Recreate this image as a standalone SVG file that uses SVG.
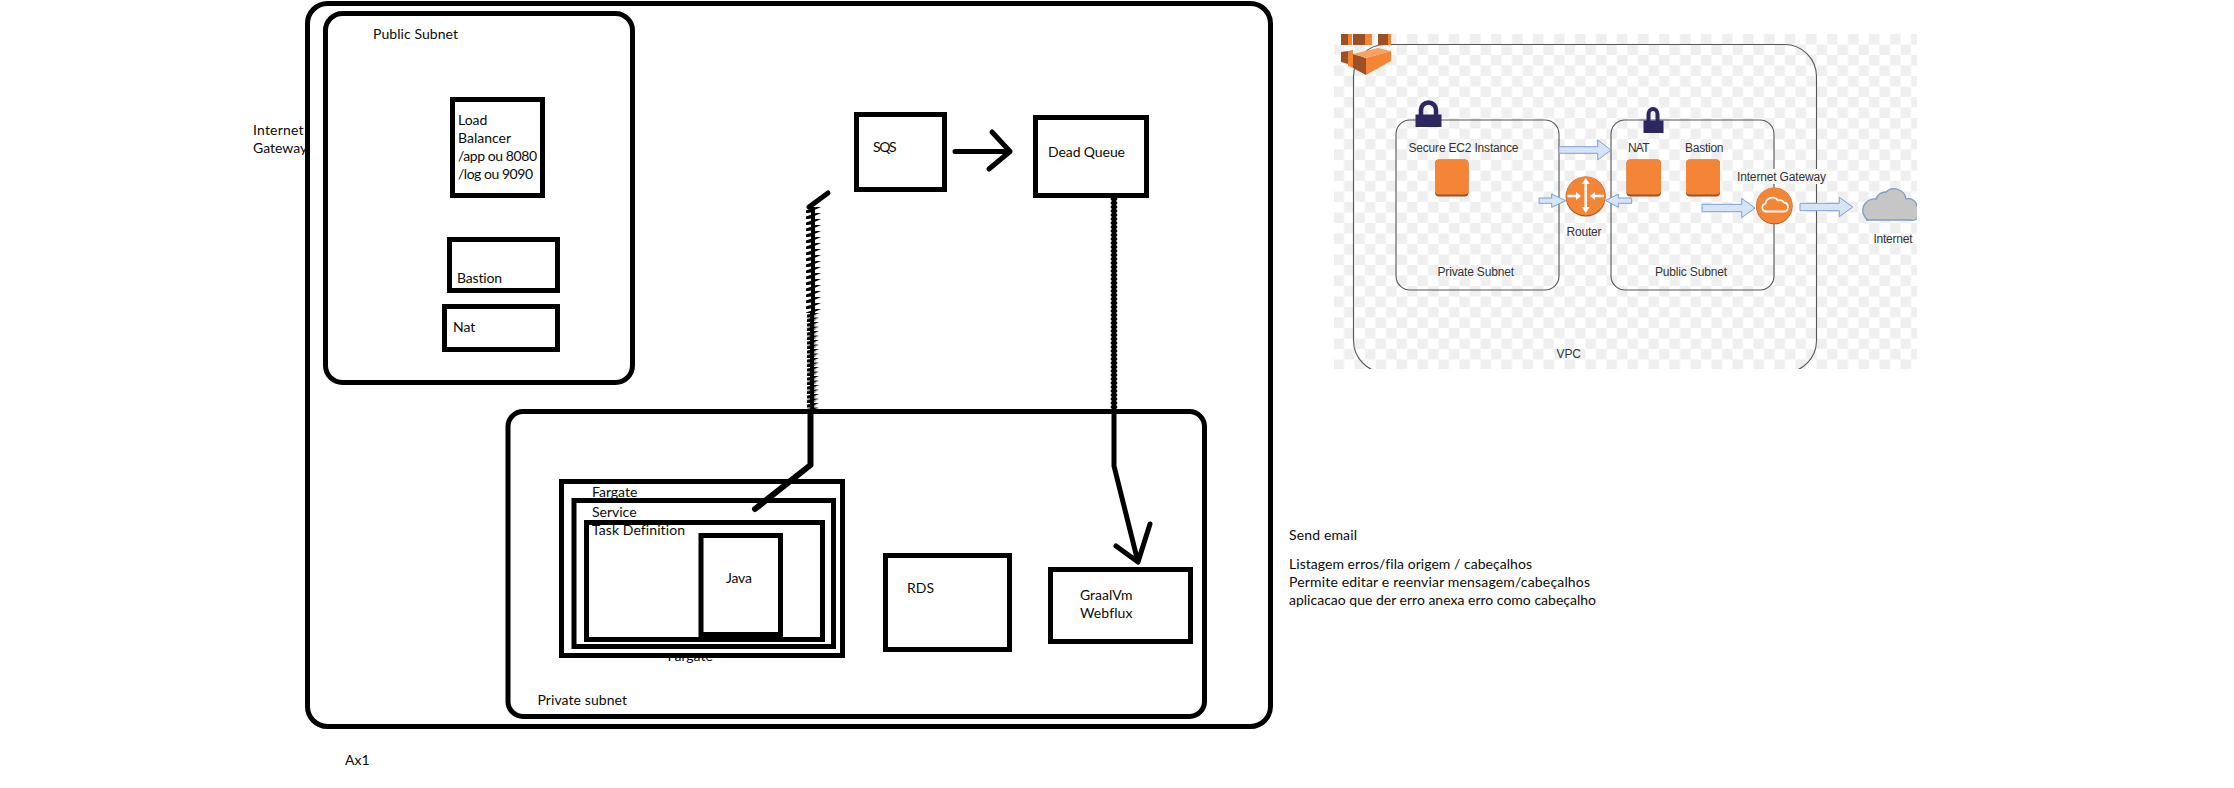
<svg xmlns="http://www.w3.org/2000/svg" width="2234" height="788" viewBox="0 0 2234 788">
<style>
.t{font-family:Lato,"Open Sans",sans-serif;font-size:14px;fill:#0a0a0a;font-variant-ligatures:none}
.a{font-family:"Liberation Sans",Arial,sans-serif;font-size:12px;fill:#333}
.b{fill:#fff;stroke:#000;stroke-width:5}
.l{fill:none;stroke:#000;stroke-width:5;stroke-linecap:round;stroke-linejoin:round}
.s{fill:none;stroke:#555;stroke-width:1.1}
.o{fill:#f58536}
.d{fill:#9d5025}
.ar{fill:#d6e4f8;stroke:#7f9fcf;stroke-width:1}
.w{stroke:#fff;stroke-width:2.5;fill:none}
</style>
<defs>
<pattern id="t6" patternUnits="userSpaceOnUse" x="806" y="207" width="15" height="6"><path d="M0 3.500L10 0H15L5 4.500H10L2 6H0Z" fill="#000"/></pattern>
<pattern id="t4" patternUnits="userSpaceOnUse" x="807" y="313" width="12" height="4.500"><path d="M0 1.500L7 0H12L6 2.500H10L3 4.500H0Z" fill="#000"/></pattern>
<pattern id="ck" patternUnits="userSpaceOnUse" x="1333.500" y="34" width="21" height="21"><rect width="21" height="21" fill="#fff"/><rect x="10.500" width="10.500" height="10.500" fill="#efefef"/><rect y="10.500" width="10.500" height="10.500" fill="#efefef"/></pattern>
<clipPath id="ic"><rect x="1334" y="34" width="583" height="335"/></clipPath>
</defs>
<rect width="2234" height="788" fill="#fff"/>

<text class="t" x="253" y="135" textLength="50.500">Internet</text>
<text class="t" x="253" y="153">Gateway</text>

<g id="ax1">
<rect class="b" x="307.500" y="3.500" width="963" height="723" rx="20"/>
<text class="t" x="345" y="765">Ax1</text>
</g>
<g id="public-subnet">
<rect class="b" x="325.500" y="13.500" width="307" height="369" rx="17"/>
<text class="t" x="373" y="39" textLength="85">Public Subnet</text>
</g>
<g id="load-balancer">
<rect class="b" x="452.500" y="99.500" width="90" height="96"/>
<text class="t" x="458" y="125">Load</text>
<text class="t" x="458" y="143" textLength="53">Balancer</text>
<text class="t" x="458" y="161" textLength="79">/app ou 8080</text>
<text class="t" x="458" y="179" textLength="75">/log ou 9090</text>
</g>
<g id="bastion">
<rect class="b" x="449.500" y="239.500" width="108" height="51"/>
<text class="t" x="457" y="283" textLength="45">Bastion</text>
</g>
<g id="nat">
<rect class="b" x="444.500" y="306.500" width="113" height="43"/>
<text class="t" x="453" y="332">Nat</text>
</g>
<g id="private-subnet">
<rect class="b" x="508" y="411.500" width="696.500" height="305" rx="15"/>
<text class="t" x="537.500" y="705" textLength="89.500">Private subnet</text>
</g>
<g id="fargate">
<text class="t" x="667.500" y="661">Fargate</text>
<rect class="b" x="561.500" y="481.500" width="281" height="174"/>
<text class="t" x="592" y="497">Fargate</text>
</g>
<g id="service">
<rect class="b" x="574" y="500.500" width="259.500" height="146"/>
<text class="t" x="592" y="517">Service</text>
</g>
<g id="task-definition">
<rect class="b" x="586.500" y="522.500" width="236" height="117"/>
<text class="t" x="592" y="535" textLength="93">Task Definition</text>
</g>
<g id="java">
<rect class="b" x="701" y="535.500" width="79.500" height="102"/>
<rect x="699" y="632" width="84" height="10" fill="#000"/>
<text class="t" x="726" y="583" textLength="26">Java</text>
</g>
<g id="rds">
<rect class="b" x="885.500" y="555.500" width="124" height="94"/>
<text class="t" x="907" y="593">RDS</text>
</g>
<g id="graalvm">
<rect class="b" x="1050.500" y="569.500" width="140" height="72"/>
<text class="t" x="1080" y="600" textLength="52.500">GraalVm</text>
<text class="t" x="1080" y="618" textLength="52.500">Webflux</text>
</g>
<g id="sqs">
<rect class="b" x="856.500" y="114.500" width="88" height="75"/>
<text class="t" x="873" y="152" textLength="23.500">SQS</text>
</g>
<g id="dead-queue">
<rect class="b" x="1035.500" y="117.500" width="111" height="78"/>
<text class="t" x="1048" y="157" textLength="77">Dead Queue</text>
</g>

<g id="connectors">
<path class="l" d="M955 151.500H1010M992 132L1010 151.500L989 169"/>
<path class="l" d="M828 193L809 207"/>
<rect x="806" y="207" width="15" height="106" fill="url(#t6)"/>
<rect x="811" y="207" width="4" height="106" fill="#000"/>
<rect x="807" y="313" width="12" height="100" fill="url(#t4)"/>
<rect x="810" y="313" width="4" height="100" fill="#000"/>
<path d="M810.500 413V465L755 509" fill="none" stroke="#000" stroke-width="6" stroke-linecap="round" stroke-linejoin="round"/>
<path d="M1114 198V413" fill="none" stroke="#000" stroke-width="6.500" stroke-dasharray="2 2"/>
<path class="l" d="M1114 198V466L1138 562M1116 546L1138 562L1150 524"/>
</g>

<g id="aws-picture">
<rect x="1334" y="34" width="583" height="335" fill="url(#ck)"/>
<g clip-path="url(#ic)">
<g id="vpc">
<rect class="s" x="1353.500" y="44.500" width="463" height="328" rx="32"/>
<text class="a" x="1556.500" y="358" textLength="24.500">VPC</text>
</g>
<g id="aws-icon">
<rect x="1341" y="34" width="7" height="11" class="d"/><rect x="1348" y="34" width="4" height="11" class="o"/><rect x="1353" y="34" width="12" height="11" class="d"/><rect x="1365" y="34" width="7" height="11" class="o"/><rect x="1378" y="34" width="10" height="11" class="d"/><rect x="1388" y="34" width="3" height="11" class="o"/>
<path class="d" d="M1341 52L1348 51V64L1341 62Z"/><path class="o" d="M1348 51L1353 50V68L1348 66Z"/>
<path class="d" d="M1353 54L1366 58V75L1353 68Z"/>
<path class="o" d="M1366 58L1391 51V61L1366 75Z"/>
<path fill="#f9a15f" d="M1353 54L1378 48L1391 51L1366 58Z"/>
</g>
<g id="aws-private-subnet">
<rect class="s" x="1396" y="120" width="163" height="170" rx="14"/>
<path fill="none" stroke="#2a2761" stroke-width="4.500" d="M1421 116V110a7.500 7.500 0 0 1 15 0V116"/>
<rect x="1415.500" y="114.500" width="26" height="12.500" fill="#2a2761"/>
<text class="a" x="1408.500" y="151.500" textLength="110">Secure EC2 Instance</text>
<rect x="1435" y="159.500" width="33.500" height="37" rx="4" class="d"/>
<rect x="1435" y="159.500" width="33.500" height="35" rx="4" class="o"/>
<text class="a" x="1437.500" y="275.500" textLength="76.500">Private Subnet</text>
</g>
<g id="aws-public-subnet">
<rect class="s" x="1611" y="120" width="163" height="170" rx="14"/>
<path fill="none" stroke="#2a2761" stroke-width="4" d="M1648.500 122V114a4.500 5 0 0 1 9 0V122"/>
<rect x="1643.500" y="120.500" width="20" height="12.500" fill="#2a2761"/>
<text class="a" x="1628" y="152" textLength="21.500">NAT</text>
<rect x="1626.500" y="159.500" width="34.500" height="37" rx="4" class="d"/>
<rect x="1626.500" y="159.500" width="34.500" height="35" rx="4" class="o"/>
<text class="a" x="1685" y="152" textLength="38.500">Bastion</text>
<rect x="1686" y="159.500" width="34" height="37" rx="4" class="d"/>
<rect x="1686" y="159.500" width="34" height="35" rx="4" class="o"/>
<text class="a" x="1655" y="275.500" textLength="72">Public Subnet</text>
</g>
<g id="router">
<circle cx="1585.700" cy="196.500" r="20" class="d"/>
<circle cx="1585.700" cy="196" r="19.500" class="o"/>
<path class="w" d="M1585.700 182V209M1567.500 196H1578M1604 196H1593"/>
<path fill="#fff" d="M1585.700 178l-4 6h8ZM1585.700 213l-4-6h8ZM1581 196l-5-4v8ZM1590 196l5-4v8Z"/>
<text class="a" x="1566.500" y="236" textLength="35">Router</text>
</g>
<g id="internet-gateway">
<rect x="1737" y="169" width="89" height="15" fill="#f7f7f7"/>
<text class="a" x="1737" y="180.500" textLength="89">Internet Gateway</text>
<circle cx="1774.300" cy="206" r="18.300" class="d"/>
<circle cx="1774.300" cy="205.500" r="18" class="o"/>
<path fill="none" stroke="#fff" stroke-width="1.800" d="M1765 211.500h18a4.500 4.500 0 0 0 1-9a5 5 0 0 0-6-2a7 7 0 0 0-12.500 3a4.200 4.200 0 0 0-.500 8Z"/>
</g>
<g id="internet">
<path fill="#c6c6c6" stroke="#7d9bc9" stroke-width="1.300" d="M1866 220h44a8 8 0 0 0 7-14a8.500 8.500 0 0 0-11-7a12 12 0 0 0-20-7a10 10 0 0 0-10 7a11.500 11.500 0 0 0-8 21Z"/>
<text class="a" x="1873.500" y="242.500" textLength="39">Internet</text>
</g>
<g id="aws-arrows">
<path class="ar" d="M1559 146.700H1597.700V140L1611 150L1597.700 160V153.300H1559Z"/>
<path class="ar" d="M1539 198H1551.700V194L1565.700 200.700L1551.700 207.300V203.300H1539Z"/>
<path class="ar" d="M1631.700 198H1618.300V194L1605.700 200.500L1618.300 207.300V203.300H1631.700Z"/>
<path class="ar" d="M1702 204.300H1741.700V198.300L1755 208L1741.700 217.700V211.700H1702Z"/>
<path class="ar" d="M1800 203.300H1839.300V197.300L1852.700 207L1839.300 216.700V210.700H1800Z"/>
</g>
</g>
</g>

<g id="notes">
<text class="t" x="1289" y="540" textLength="68">Send email</text>
<text class="t" x="1289" y="569" textLength="243">Listagem erros/fila origem / cabeçalhos</text>
<text class="t" x="1289" y="587" textLength="301">Permite editar e reenviar mensagem/cabeçalhos</text>
<text class="t" x="1289" y="605" textLength="307">aplicacao que der erro anexa erro como cabeçalho</text>
</g>
</svg>
